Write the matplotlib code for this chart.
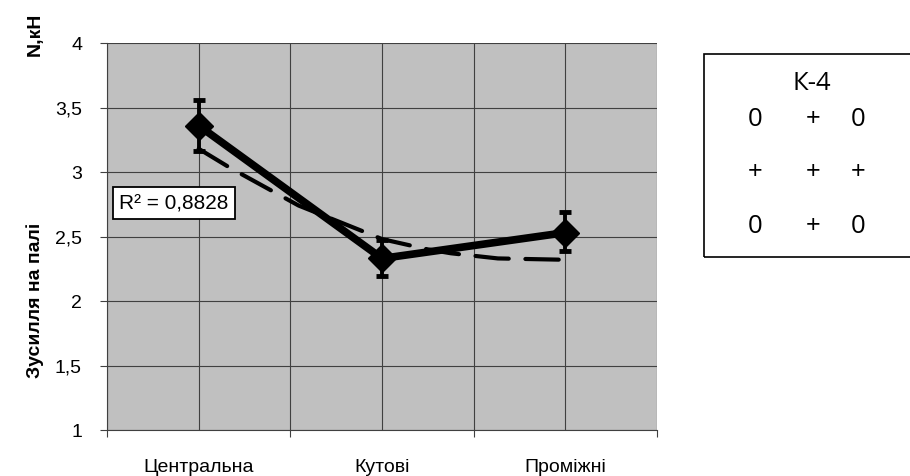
import matplotlib.pyplot as plt
from matplotlib.patches import Rectangle

categories = ["Центральна", "Кутові", "Проміжні"]
values = [3.36, 2.33, 2.53]
err_low = [0.20, 0.14, 0.14]
err_high = [0.20, 0.14, 0.16]

# dashed trend line (x in category units)
trend_x = [0.0, 0.174, 0.545, 0.905, 1.0, 1.25, 1.376, 1.632, 1.986]
trend_y = [3.18, 3.03, 2.74, 2.535, 2.48, 2.40, 2.37, 2.33, 2.32]

y_ticks = [1, 1.5, 2, 2.5, 3, 3.5, 4]
y_labels = ["1", "1,5", "2", "2,5", "3", "3,5", "4"]
r2_text = "R² = 0,8828"
grid_rows = [["0", "+", "0"], ["+", "+", "+"], ["0", "+", "0"]]

plt.rcParams["font.family"] = ["Liberation Sans", "DejaVu Sans"]

fig = plt.figure(figsize=(9.1, 4.77), dpi=100)
W, H = 910, 477
ax = fig.add_axes([107 / W, 1 - 431 / H, 550 / W, 387 / H])
ax.set_facecolor("#c0c0c0")

xs = list(range(len(categories)))

# trend line (dashed)
ax.plot(trend_x, trend_y, color="black", linewidth=3.0, linestyle=(0, (8, 4)),
        solid_capstyle="round", dash_capstyle="round", zorder=3)

# main series
ax.errorbar(xs, values, yerr=[err_low, err_high], color="black", linewidth=5.5,
            marker="D", markersize=14, elinewidth=2.8, capsize=4.5, capthick=3.5,
            zorder=4)

ax.set_xlim(-0.5, 2.5)
ax.set_ylim(1, 4)
ax.set_yticks(y_ticks)
ax.set_yticklabels(y_labels, fontsize=14)

# grid: y at ticks, x at categories and boundaries
for y in y_ticks:
    ax.axhline(y, color="#404040", linewidth=0.8, zorder=1)
for x in [-0.5, 0, 0.5, 1, 1.5, 2, 2.5]:
    ax.axvline(x, color="#404040", linewidth=0.8, zorder=1)

ax.set_xticks([-0.5, 0.5, 1.5, 2.5])
ax.set_xticklabels([])
ax.set_xticks(xs, minor=True)
ax.set_xticklabels(categories, minor=True, fontsize=14)
ax.tick_params(axis="x", which="minor", length=0, pad=20)
ax.tick_params(axis="x", which="major", length=5, direction="out", color="#404040")
ax.tick_params(axis="y", length=5, direction="out", color="#404040", pad=13)

for side in ["top", "right"]:
    ax.spines[side].set_visible(False)
ax.spines["left"].set_color("#404040")
ax.spines["bottom"].set_color("#404040")

# R^2 label
ax.text(0.022, 0.587, r2_text, transform=ax.transAxes, fontsize=15, va="center",
        ha="left", zorder=5,
        bbox=dict(boxstyle="square,pad=0.3", fc="white", ec="black", lw=1.3))

# axis titles
fig.text(35 / W, 1 - 300 / H, "Зусилля на палі", rotation=90, fontsize=14,
         fontweight="bold", ha="center", va="center")
fig.text(35 / W, 1 - 34 / H, "N,кН", rotation=90, fontsize=14,
         fontweight="bold", ha="center", va="center")

# scheme box on the right
box = Rectangle((704 / W, 1 - 258 / H), 220 / W, 203 / H, transform=fig.transFigure,
                fill=False, ec="black", lw=1.2, clip_on=False)
fig.add_artist(box)
fig.text(812 / W, 1 - 84 / H, "К-4", fontsize=18.5, family="Open Sans",
         ha="center", va="center")
col_x = [755, 813, 858]
row_y = [120, 173, 227]
for r, row in enumerate(grid_rows):
    for c, s in enumerate(row):
        fig.text(col_x[c] / W, 1 - row_y[r] / H, s, fontsize=18.5, family="Open Sans",
                 ha="center", va="center")

plt.savefig("out.png", dpi=100)
